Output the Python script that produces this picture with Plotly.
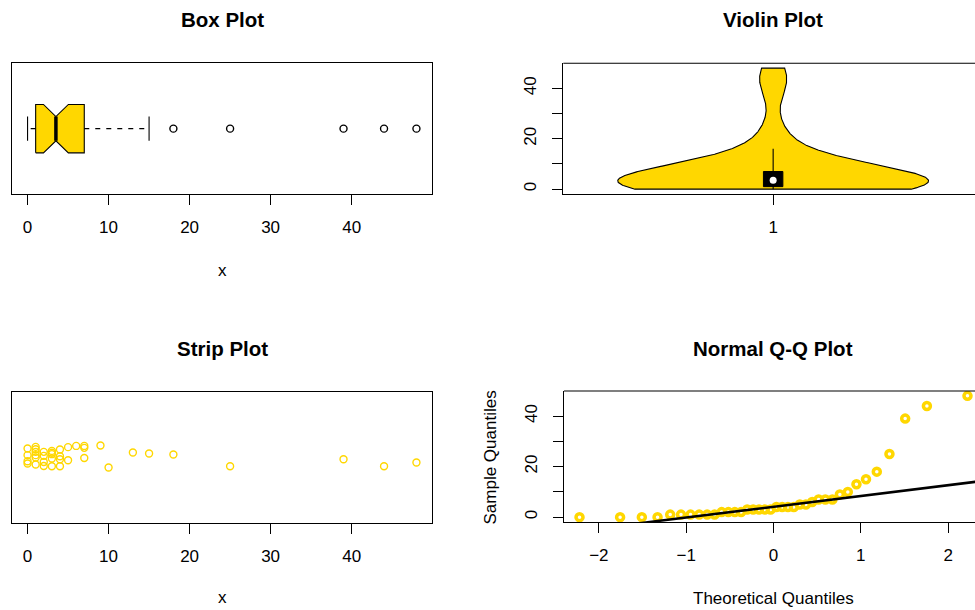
import numpy as np
import plotly.graph_objects as go
from statistics import NormalDist

# ---------------- data ----------------
values = [0, 0, 0, 0, 1, 1, 1, 1, 1, 1, 2, 2, 2, 2, 3, 3, 3, 3, 3,
          4, 4, 4, 4, 5, 5, 6, 7, 7, 7, 9, 10, 13, 15, 18, 25, 39, 44, 48]
# jitter offsets of the strip chart, same order as values
strip_jitter = [0.072, 0.017, -0.033, -0.052,
                0.085, 0.066, 0.044, 0.017, -0.002, -0.060,
                0.044, 0.011, -0.039, -0.072,
                0.052, 0.037, 0.025, -0.011, -0.074,
                0.064, 0.008, -0.017, -0.074,
                0.083, -0.025,
                0.093,
                0.093, 0.077, -0.006,
                0.097, -0.085, 0.039, 0.031, 0.022, -0.074, -0.017, -0.074, -0.044]
x_ticks = [0, 10, 20, 30, 40]
y_ticks = [0, 10, 20, 30, 40]
y_ticktext = ["0", "", "20", "", "40"]
qq_ticks = [-2, -1, 0, 1, 2]
titles = ["Box Plot", "Violin Plot", "Strip Plot", "Normal Q-Q Plot"]

GOLD = "#FFD700"
FONT = "Liberation Sans, Arial, Helvetica, sans-serif"
W, H = 975, 610

v = np.sort(np.array(values, dtype=float))
n = len(v)

# ---------- statistics ----------
def fivenum(a):
    a = np.sort(a)
    m = len(a)
    n4 = np.floor((m + 3) / 2) / 2
    d = np.array([1, n4, (m + 1) / 2, m + 1 - n4, m], dtype=float) - 1
    return 0.5 * (a[np.floor(d).astype(int)] + a[np.ceil(d).astype(int)])

fn = fivenum(v)
q1, med, q3 = fn[1], fn[2], fn[3]
iqr = q3 - q1
upper_lim = q3 + 1.5 * iqr
lower_lim = q1 - 1.5 * iqr
inside = v[(v >= lower_lim) & (v <= upper_lim)]
wlo, whi = inside.min(), inside.max()
outliers = v[(v < lower_lim) | (v > upper_lim)]
notch = 1.58 * iqr / np.sqrt(n)
c_lo, c_hi = med - notch, med + notch

def ext(lo, hi):
    d = (hi - lo) * 0.04
    return [lo - d, hi + d]

xr = ext(v.min(), v.max())

# ---------- layout helpers ----------
def px_x(p):
    return p / W

def px_y(p):
    return 1 - p / H

# panel pixel boxes (left, right, top, bottom); right column clipped at window edge
box_dom = ([px_x(12), px_x(432)], [px_y(194), px_y(63.3)])
vio_dom = ([px_x(563.3), 1.0], [px_y(194), px_y(63.3)])
str_dom = ([px_x(12), px_x(432)], [px_y(522.7), px_y(391.7)])
qq_dom = ([px_x(564), 1.0], [px_y(522), px_y(391)])

fig = go.Figure()

# ---------------- Box plot ----------------
hb, hn = 0.2, 0.1
bx = [q1, c_lo, med, c_hi, q3, q3, c_hi, med, c_lo, q1, q1]
by = [1 - hb, 1 - hb, 1 - hn, 1 - hb, 1 - hb, 1 + hb, 1 + hb, 1 + hn, 1 + hb, 1 + hb, 1 - hb]
fig.add_trace(go.Scatter(x=bx, y=by, mode="lines", fill="toself", fillcolor=GOLD,
                         line=dict(color="black", width=1.1), xaxis="x", yaxis="y",
                         hoverinfo="skip", showlegend=False))
fig.add_trace(go.Scatter(x=[med, med], y=[1 - hn, 1 + hn], mode="lines",
                         line=dict(color="black", width=3.5), xaxis="x", yaxis="y",
                         showlegend=False))
for a, b in [(q3, whi), (q1, wlo)]:
    fig.add_trace(go.Scatter(x=[a, b], y=[1, 1], mode="lines",
                             line=dict(color="black", width=1.1, dash="5px,6px"),
                             xaxis="x", yaxis="y", showlegend=False))
for s in [wlo, whi]:
    fig.add_trace(go.Scatter(x=[s, s], y=[1 - hn, 1 + hn], mode="lines",
                             line=dict(color="black", width=1.1), xaxis="x", yaxis="y",
                             showlegend=False))
fig.add_trace(go.Scatter(x=outliers, y=np.ones(len(outliers)), mode="markers",
                         marker=dict(symbol="circle-open", size=7, color="black",
                                     line=dict(width=1.4, color="black")),
                         xaxis="x", yaxis="y", showlegend=False))

# ---------------- Violin plot ----------------
sd = v.std(ddof=1)
h = sd * (4 / (3 * n)) ** 0.2
grid = np.linspace(v.min(), v.max(), 400)
dens = np.exp(-0.5 * ((grid[:, None] - v[None, :]) / h) ** 2).sum(axis=1)
half = 0.4 * dens / dens.max()
vx = np.concatenate([1 - half, (1 + half)[::-1], [1 - half[0]]])
vy = np.concatenate([grid, grid[::-1], [grid[0]]])
fig.add_trace(go.Scatter(x=vx, y=vy, mode="lines", fill="toself", fillcolor=GOLD,
                         line=dict(color="black", width=1.1), xaxis="x2", yaxis="y2",
                         hoverinfo="skip", showlegend=False))
v_up = min(q3 + 1.5 * iqr, v.max())
v_lo = max(q1 - 1.5 * iqr, v.min())
fig.add_trace(go.Scatter(x=[1, 1], y=[v_lo, v_up], mode="lines",
                         line=dict(color="black", width=1.1), xaxis="x2", yaxis="y2",
                         showlegend=False))
bw = 0.025
fig.add_trace(go.Scatter(x=[1 - bw, 1 + bw, 1 + bw, 1 - bw, 1 - bw],
                         y=[q1, q1, q3, q3, q1], mode="lines", fill="toself",
                         fillcolor="black", line=dict(color="black", width=1),
                         xaxis="x2", yaxis="y2", showlegend=False))
fig.add_trace(go.Scatter(x=[1], y=[med], mode="markers",
                         marker=dict(size=7, color="white"), xaxis="x2", yaxis="y2",
                         showlegend=False))

# ---------------- Strip plot ----------------
fig.add_trace(go.Scatter(x=values, y=1 + np.array(strip_jitter), mode="markers",
                         marker=dict(symbol="circle-open", size=7, color=GOLD,
                                     line=dict(width=1.4, color=GOLD)),
                         xaxis="x3", yaxis="y3", showlegend=False))

# ---------------- Normal Q-Q plot ----------------
nd = NormalDist()
tq = np.array([nd.inv_cdf((i - 0.5) / n) for i in range(1, n + 1)])
qr_full = ext(tq.min(), tq.max())
pxu = (983 - 564) / (qr_full[1] - qr_full[0])
qr_vis = [qr_full[0], qr_full[0] + (975 - 564) / pxu]
fig.add_trace(go.Scatter(x=tq, y=v, mode="markers",
                         marker=dict(symbol="circle-open", size=7, color=GOLD,
                                     line=dict(width=3.5, color=GOLD)),
                         xaxis="x4", yaxis="y4", showlegend=False))
p25, p75 = np.percentile(v, [25, 75])
z25, z75 = nd.inv_cdf(0.25), nd.inv_cdf(0.75)
slope = (p75 - p25) / (z75 - z25)
icpt = p25 - slope * z25
lx = np.array([qr_full[0] - 1, qr_full[1] + 1])
fig.add_trace(go.Scatter(x=lx, y=icpt + slope * lx, mode="lines",
                         line=dict(color="black", width=2.5), xaxis="x4", yaxis="y4",
                         showlegend=False))

# ---------------- axes ----------------
tickfont = dict(family=FONT, size=17, color="black")
common = dict(showgrid=False, zeroline=False, showline=True, linecolor="black",
              linewidth=1.1, tickcolor="black", tickwidth=1.1, tickfont=tickfont,
              fixedrange=True)
xt = dict(ticks="outside", ticklen=10, ticklabelstandoff=8)
yt = dict(ticks="outside", ticklen=10, tickangle=-90, ticklabelstandoff=9)
noax = dict(ticks="", showticklabels=False)

vio_pxu = (983 - 563.3) / 1.08
vio_range = [0.46, 0.46 + (975 - 563.3) / vio_pxu]
yr = ext(v.min(), v.max())

fig.update_layout(
    width=W, height=H, autosize=False,
    margin=dict(l=0, r=0, t=0, b=0),
    paper_bgcolor="white", plot_bgcolor="white",
    showlegend=False,
    xaxis=dict(domain=box_dom[0], range=xr, tickvals=x_ticks, mirror=True,
               anchor="y", **common, **xt),
    yaxis=dict(domain=box_dom[1], range=[0.46, 1.54], mirror=True, anchor="x",
               **common, **noax),
    xaxis2=dict(domain=vio_dom[0], range=vio_range, tickvals=[1], anchor="y2",
                **common, **xt),
    yaxis2=dict(domain=vio_dom[1], range=yr, tickvals=y_ticks, ticktext=y_ticktext,
                anchor="x2", **common, **yt),
    xaxis3=dict(domain=str_dom[0], range=xr, tickvals=x_ticks, mirror=True,
                anchor="y3", **common, **xt),
    yaxis3=dict(domain=str_dom[1], range=[0.46, 1.54], mirror=True, anchor="x3",
                **common, **noax),
    xaxis4=dict(domain=qq_dom[0], range=qr_vis, tickvals=qq_ticks, anchor="y4",
                **common, **xt),
    yaxis4=dict(domain=qq_dom[1], range=yr, tickvals=y_ticks, ticktext=y_ticktext,
                anchor="x4", **common, **yt),
)

# top edges of the clipped right-hand panels
for xa, ya in [("x2", "y2"), ("x4", "y4")]:
    fig.add_shape(type="line", xref=f"{xa} domain", yref=f"{ya} domain",
                  x0=0, x1=1.01, y0=1, y1=1, line=dict(color="black", width=1.1))

# titles and axis labels
ann = []
centers = [(222, 19.5), (773, 19.5), (222, 348), (773, 348)]
for t, (cx, cy) in zip(titles, centers):
    ann.append(dict(text=f"<b>{t}</b>", x=px_x(cx), y=px_y(cy), xref="paper",
                    yref="paper", showarrow=False, xanchor="center", yanchor="middle",
                    font=dict(family=FONT, size=20.5, color="black")))
labs = [("x", 222, 270.5, 0), ("x", 222, 597, 0),
        ("Theoretical Quantiles", 773, 598, 0), ("Sample Quantiles", 489.5, 457, -90)]
for t, cx, cy, ang in labs:
    ann.append(dict(text=t, x=px_x(cx), y=px_y(cy), xref="paper", yref="paper",
                    showarrow=False, xanchor="center", yanchor="middle", textangle=ang,
                    font=dict(family=FONT, size=17, color="black")))
fig.update_layout(annotations=ann)

fig.write_html("out.html")
